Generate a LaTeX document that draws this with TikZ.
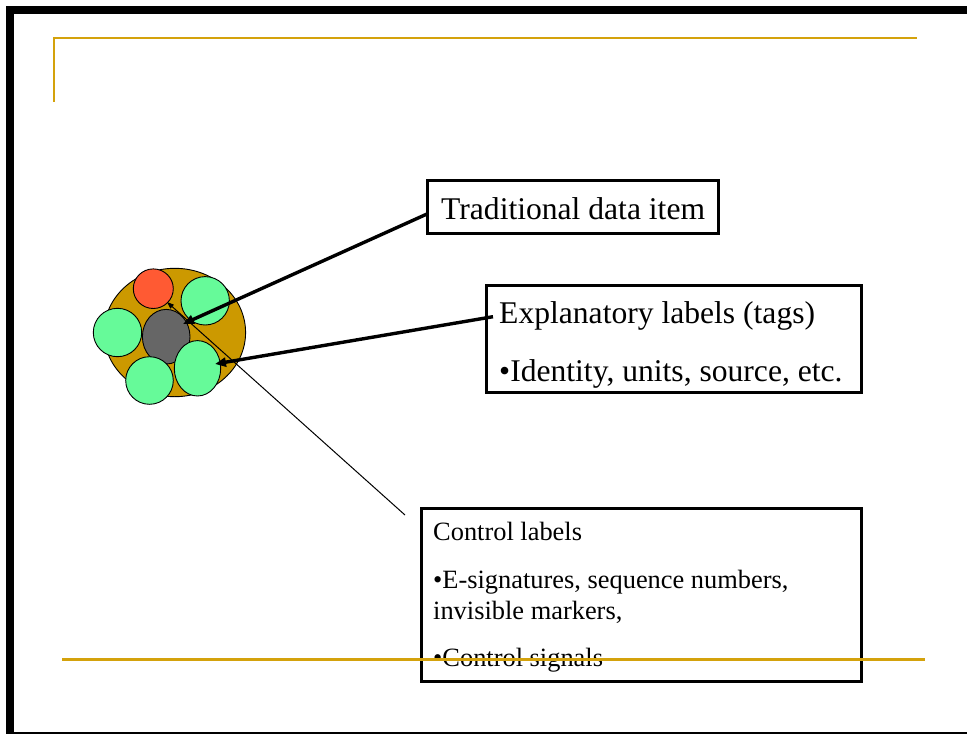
\documentclass[tikz,border=0pt]{standalone}
\usepackage{fontspec}
\setmainfont{Liberation Serif}
\usetikzlibrary{arrows.meta,shapes.geometric}
\definecolor{gold}{HTML}{CC9900}
\definecolor{rulegold}{HTML}{D4A20C}
\definecolor{mint}{HTML}{66FA99}
\definecolor{tomato}{HTML}{FF5A33}
\definecolor{core}{HTML}{666666}
\tikzset{
  blob/.style={ellipse, draw=black, line width=0.9pt, inner sep=0pt},
  labelbox/.style={rectangle, draw=black, line width=3pt, inner sep=0pt},
  bigtext/.style={anchor=base west, inner sep=0pt, font=\fontsize{31.6}{38}\selectfont},
  smalltext/.style={anchor=base west, inner sep=0pt, font=\fontsize{26.4}{31}\selectfont},
  heavyarrow/.style={line width=3.4pt, -{Triangle[length=11pt,width=9pt]}},
  lightarrow/.style={line width=1pt, -{Triangle[length=7pt,width=5pt]}}
}
\begin{document}
\begin{tikzpicture}[x=1pt,y=-1pt]
\useasboundingbox (0,0) rectangle (967,734);
\fill[white] (0,0) rectangle (967,734);

% slide frame
\fill[black] (6,6) rectangle (967,14);
\fill[black] (6,6) rectangle (14,734);
\fill[black] (6,732) rectangle (967,734);

% gold rules
\draw[rulegold, line width=2pt] (54,101.5) -- (54,38) -- (917,38);

% the labelled data item
\node[blob, fill=gold, minimum width=141.6pt, minimum height=128.4pt] (item) at (174.8,332.5) {};
\node[blob, fill=tomato, minimum width=40pt, minimum height=39.6pt] (tag) at (153.3,288.7) {};
\node[blob, fill=mint, minimum width=48.4pt, minimum height=48.4pt] (gtr) at (205.2,300.8) {};
\node[blob, fill=mint, minimum width=48.4pt, minimum height=48.4pt] (gl) at (117.5,332.5) {};
\node[blob, fill=core, minimum width=47.6pt, minimum height=54.6pt] (data) at (166.2,336.7) {};
\node[blob, fill=mint, minimum width=47.6pt, minimum height=47.6pt] (gb) at (149.5,380.5) {};
\node[blob, fill=mint, minimum width=46.4pt, minimum height=55.4pt] (gbr) at (197.5,368.3) {};

% label boxes
\node[labelbox, minimum width=291pt, minimum height=53pt] (trad) at (572.5,206.5) {};
\node[labelbox, minimum width=375pt, minimum height=107pt] (expl) at (673.5,338.5) {};
\node[labelbox, minimum width=440pt, minimum height=173pt] (ctrl) at (641,594.5) {};

\node[bigtext] (tradtxt) at (441,219.5) {Traditional data item};
\node[bigtext] (expltxt) at (499,323) {Explanatory labels (tags)};
\node[bigtext] (idtxt) at (499,381) {•Identity, units, source, etc.};
\node[smalltext] (ctrltxt) at (433,540) {Control labels};
\node[smalltext] (sigtxt) at (433,588) {•E-signatures, sequence numbers,};
\node[smalltext] (invtxt) at (433,619) {invisible markers,};
\node[smalltext] (cstxt) at (433,666.5) {•Control signals};

% bottom gold rule
\draw[rulegold, line width=2.4pt] (62,659.5) -- (924.5,659.5);

% connectors
\coordinate (tradend) at (427,214);
\coordinate (explend) at (493,316.7);
\coordinate (ctrlend) at (405,515);
\coordinate (datatip) at (183,324);
\coordinate (tagtip) at (215,364);
\coordinate (redtip) at (167,302);
\draw[heavyarrow] (tradend) -- (datatip);
\draw[heavyarrow] (explend) -- (tagtip);
\draw[lightarrow] (ctrlend) -- (redtip);
\end{tikzpicture}
\end{document}
